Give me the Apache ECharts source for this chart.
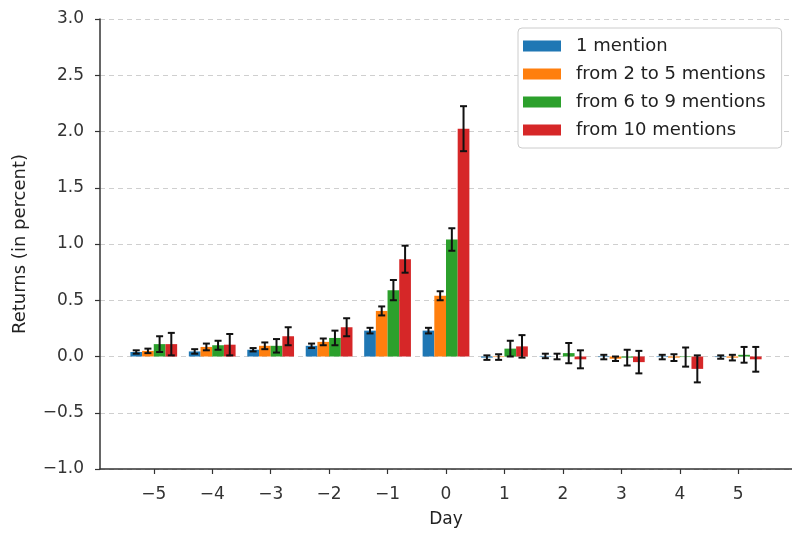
<!DOCTYPE html>
<html>
<head>
<meta charset="utf-8">
<script src="https://cdn.jsdelivr.net/npm/echarts@6/dist/echarts.min.js"></script>
<style>html,body{margin:0;padding:0;background:#fff}#c{width:792px;height:533px}</style>
</head>
<body>
<div id="c"></div>
<script>
const days = [-5, -4, -3, -2, -1, 0, 1, 2, 3, 4, 5];
const seriesNames = ['1 mention', 'from 2 to 5 mentions', 'from 6 to 9 mentions', 'from 10 mentions'];
const colors = ['#1f77b4', '#ff7f0e', '#2ca02c', '#d62728'];
const one    = [0.040, 0.045, 0.060, 0.095, 0.230, 0.230, -0.010, 0.005, -0.005, -0.005, -0.005];
const oneErr = [0.015, 0.020, 0.015, 0.020, 0.025, 0.025, 0.020, 0.020, 0.020, 0.020, 0.015];
const two    = [0.050, 0.085, 0.095, 0.130, 0.405, 0.540, -0.005, 0.000, -0.020, -0.010, -0.010];
const twoErr = [0.020, 0.030, 0.030, 0.030, 0.040, 0.040, 0.025, 0.025, 0.020, 0.030, 0.025];
const six    = [0.110, 0.100, 0.095, 0.165, 0.590, 1.040, 0.070, 0.030, -0.010, -0.005, 0.015];
const sixErr = [0.070, 0.040, 0.060, 0.065, 0.090, 0.100, 0.070, 0.090, 0.070, 0.085, 0.070];
const ten    = [0.110, 0.105, 0.180, 0.260, 0.865, 2.025, 0.090, -0.025, -0.050, -0.110, -0.025];
const tenErr = [0.100, 0.095, 0.080, 0.080, 0.120, 0.200, 0.100, 0.080, 0.100, 0.120, 0.110];
const yTicks = [-1.0, -0.5, 0.0, 0.5, 1.0, 1.5, 2.0, 2.5, 3.0];

const values = [one, two, six, ten];
const errors = [oneErr, twoErr, sixErr, tenErr];
const font = 'DejaVu Sans';
const fmt = v => (v < 0 ? '\u2212' : '') + Math.abs(v);
const fmtY = v => (v < 0 ? '\u2212' : '') + Math.abs(v).toFixed(1);

const series = [];
values.forEach((vals, k) => {
  series.push({
    name: seriesNames[k], type: 'bar',
    data: days.map((d, i) => [d, vals[i]]),
    barWidth: '20%', barGap: '0%',
    itemStyle: {color: colors[k]},
    z: 2
  });
});
values.forEach((vals, k) => {
  series.push({
    type: 'custom', silent: true, z: 10,
    encode: {x: 0, y: 1},
    data: days.map((d, i) => [d, vals[i], errors[k][i]]),
    renderItem: function (params, api) {
      const d = api.value(0), v = api.value(1), e = api.value(2);
      const band = api.size([1, 0])[0];
      const off = (k - 1.5) * 0.2 * band;
      const t = api.coord([d, v + e]);
      const b = api.coord([d, v - e]);
      const x = t[0] + off, cap = 3.5;
      const st = {stroke: '#111', lineWidth: 2};
      return {type: 'group', children: [
        {type: 'line', shape: {x1: x, y1: t[1], x2: x, y2: b[1]}, style: st},
        {type: 'line', shape: {x1: x - cap, y1: t[1], x2: x + cap, y2: t[1]}, style: st},
        {type: 'line', shape: {x1: x - cap, y1: b[1], x2: x + cap, y2: b[1]}, style: st}
      ]};
    }
  });
});

const chart = echarts.init(document.getElementById('c'), null, {renderer: 'canvas'});
chart.setOption({
  animation: false,
  backgroundColor: '#fff',
  textStyle: {fontFamily: font},
  grid: {left: 100, right: 0, top: 19, bottom: 62, containLabel: false},
  legend: {
    data: seriesNames, orient: 'vertical', left: 518, top: 28,
    icon: 'rect', itemWidth: 38, itemHeight: 11, itemGap: 6,
    padding: [7, 16, 7, 5],
    borderColor: '#cccccc', borderWidth: 1, borderRadius: 4, backgroundColor: '#fff',
    textStyle: {fontFamily: font, fontSize: 18, color: '#222', lineHeight: 22, padding: [0, 0, 0, 10]}
  },
  xAxis: {
    type: 'value', min: -5.92, max: 5.92,
    name: 'Day', nameLocation: 'middle', nameGap: 42,
    nameTextStyle: {fontFamily: font, fontSize: 17, color: '#222'},
    axisLine: {show: true, onZero: false, lineStyle: {color: '#333', width: 1.5}},
    axisTick: {show: true, length: 5, lineStyle: {color: '#333', width: 1.2}, customValues: days},
    axisLabel: {fontFamily: font, fontSize: 17, color: '#333', margin: 17, customValues: days, formatter: fmt},
    splitLine: {show: false}
  },
  yAxis: {
    type: 'value', min: -1, max: 3, interval: 0.5,
    name: 'Returns (in percent)', nameLocation: 'middle', nameGap: 71,
    nameTextStyle: {fontFamily: font, fontSize: 18, color: '#222'},
    axisLine: {show: true, onZero: false, lineStyle: {color: '#333', width: 1.5}},
    axisTick: {show: true, length: 5, lineStyle: {color: '#333', width: 1.2}},
    axisLabel: {fontFamily: font, fontSize: 17, color: '#333', margin: 16, formatter: fmtY},
    splitLine: {show: true, lineStyle: {color: '#cfcfcf', width: 1, type: [5, 4]}}
  },
  series: series
});
</script>
</body>
</html>
